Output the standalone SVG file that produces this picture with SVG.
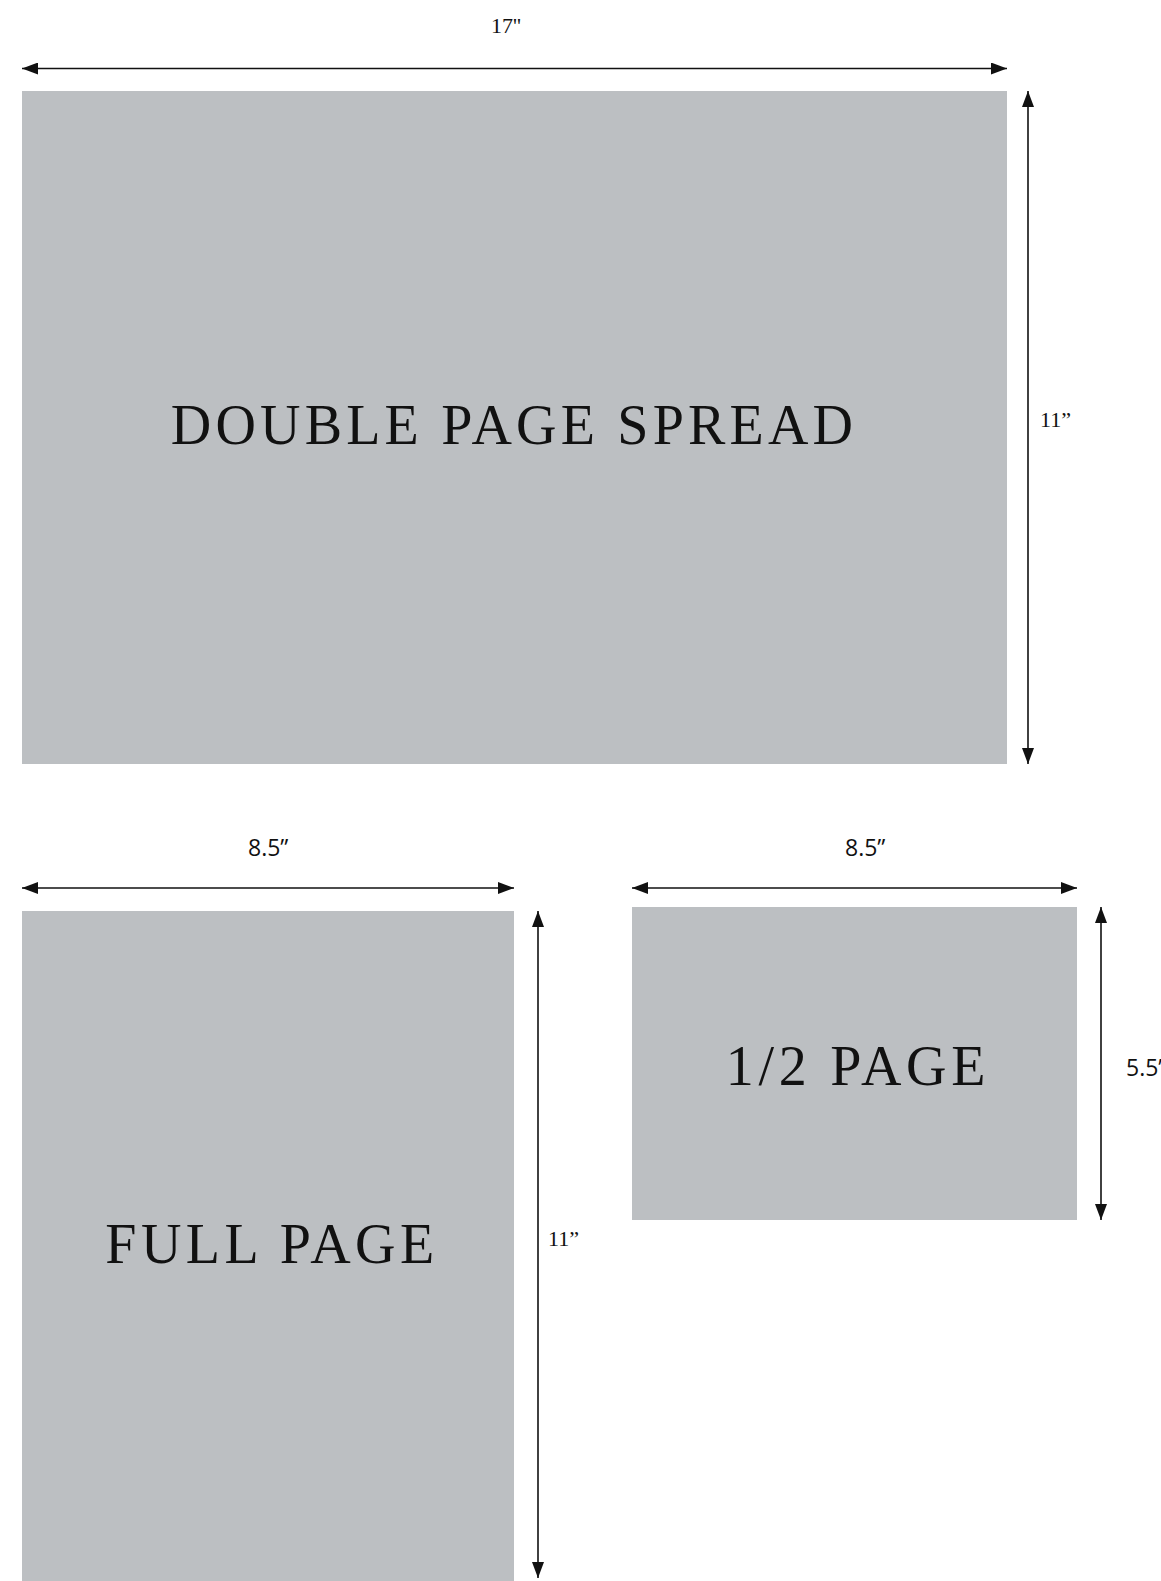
<svg xmlns="http://www.w3.org/2000/svg" width="1161" height="1581" viewBox="0 0 1161 1581">
<style>
.page{fill:#bcbfc2}
.title{font-family:"Liberation Serif","DejaVu Serif",serif;font-size:56px;fill:#111;text-anchor:middle}
.dimserif{font-family:"Liberation Serif","DejaVu Serif",serif;font-size:22px;fill:#111}
.dimsans{font-family:"Open Sans","Liberation Sans",sans-serif;font-size:23px;fill:#111}
.dim{stroke:#111;stroke-width:1.6;fill:none;marker-start:url(#ah);marker-end:url(#ah)}
</style>
<defs>
<marker id="ah" viewBox="0 0 16 12" refX="16" refY="6" markerWidth="16" markerHeight="12" markerUnits="userSpaceOnUse" orient="auto-start-reverse">
<path d="M0,0 L16,6 L0,12 Z" fill="#111"/>
</marker>
</defs>
<rect width="1161" height="1581" fill="#ffffff"/>
<g id="double-page-spread">
<rect class="page" x="22" y="91" width="985" height="673"/>
<text class="title" x="514" y="444" letter-spacing="4.2">DOUBLE PAGE SPREAD</text>
</g>
<g id="full-page">
<rect class="page" x="22" y="911" width="492" height="670"/>
<text class="title" x="272" y="1263" letter-spacing="4.5">FULL PAGE</text>
</g>
<g id="half-page">
<rect class="page" x="632" y="907" width="445" height="313"/>
<text class="title" x="858" y="1085" letter-spacing="4.7">1/2 PAGE</text>
</g>
<g id="connectors">
<line class="dim" x1="22" y1="68.5" x2="1007" y2="68.5"/>
<line class="dim" x1="1028" y1="91" x2="1028" y2="764"/>
<line class="dim" x1="22" y1="888" x2="514" y2="888"/>
<line class="dim" x1="538" y1="911" x2="538" y2="1578"/>
<line class="dim" x1="632" y1="888" x2="1077" y2="888"/>
<line class="dim" x1="1101" y1="907" x2="1101" y2="1220"/>
</g>
<g id="dimension-labels">
<text class="dimserif" x="491" y="33">17''</text>
<text class="dimserif" x="1040" y="427">11”</text>
<text class="dimsans" x="248" y="856">8.5”</text>
<text class="dimsans" x="845" y="856">8.5”</text>
<text class="dimserif" x="548" y="1246">11”</text>
<text class="dimsans" x="1126" y="1076">5.5”</text>
</g>
</svg>
